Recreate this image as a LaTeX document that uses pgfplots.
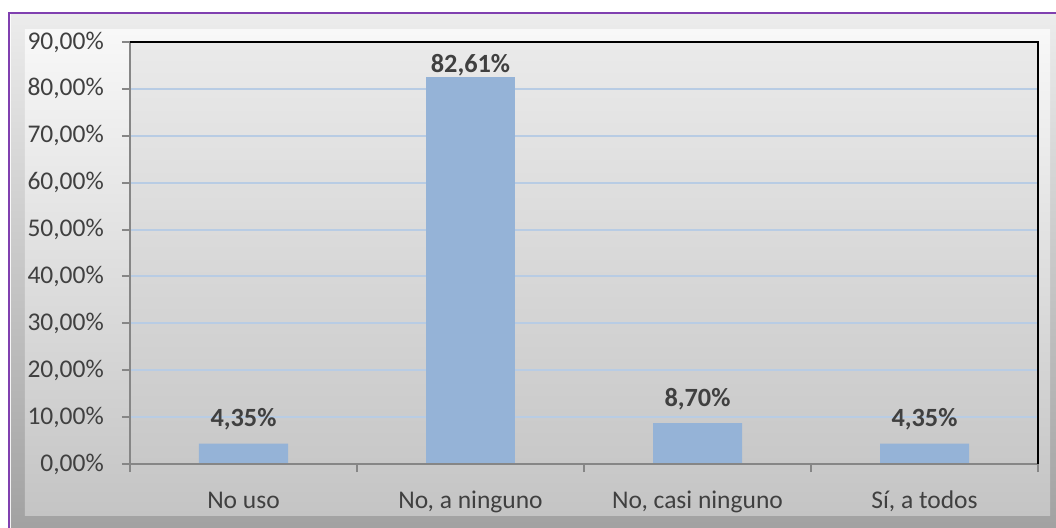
\documentclass[border=0pt]{standalone}
\usepackage{fontspec}
\setmainfont{Carlito}
\usepackage{pgfplots}
\pgfplotsset{compat=1.18}
\definecolor{barblue}{RGB}{149,179,215}
\definecolor{gridblue}{RGB}{184,204,228}
\definecolor{framepurple}{RGB}{128,64,176}
\definecolor{axisgray}{RGB}{134,134,134}
\definecolor{txt}{RGB}{64,64,64}
\definecolor{paneltop}{RGB}{248,248,248}
\definecolor{panelbot}{RGB}{196,196,196}
\definecolor{beveltop}{RGB}{236,236,236}
\definecolor{bevelbot}{RGB}{160,160,160}
\definecolor{plottop}{RGB}{234,234,234}
\definecolor{plotbot}{RGB}{200,200,200}
\begin{document}
\begin{tikzpicture}[x=1pt,y=1pt]
% pixel (px,py) -> (px-130, 464-py)
\useasboundingbox (-130,-63) rectangle (926,464);
\fill[white] (-130,-63) rectangle (926,464);
\begin{scope}
\clip (-130,-63) rectangle (926,464);
\shade[top color=beveltop, bottom color=bevelbot] (-119,450) rectangle (935,-75);
\shade[top color=paneltop, bottom color=panelbot] (-105,434) rectangle (920,-51);
\draw[framepurple, line width=2pt] (-121,-90) -- (-121,451) -- (950,451);
\end{scope}
\begin{axis}[
  at={(0,0)}, anchor=south west,
  scale only axis, width=908pt, height=422pt,
  xmin=-0.5, xmax=3.5, ymin=0, ymax=90,
  ybar, bar width=89pt, bar shift=0pt,
  axis background/.style={shade, top color=plottop, bottom color=plotbot},
  axis line style={draw=none},
  /pgf/number format/assume math mode=true,
  ytick={0,10,...,90},
  xtick={0,1,2,3},
  xticklabels={No uso, {No, a ninguno}, {No, casi ninguno}, {Sí, a todos}},
  minor xtick={-0.5,0.5,1.5,2.5,3.5},
  major x tick style={draw=none},
  xtick pos=bottom, ytick pos=left,
  tick align=outside,
  major tick length=8pt, minor tick length=8pt,
  tick style={axisgray, line width=2pt},
  ymajorgrids, grid style={gridblue, line width=2pt},
  yticklabel={\pgfmathprintnumber[fixed,fixed zerofill,precision=2,use comma]{\tick}\%},
  every tick label/.append style={font=\fontsize{25.5}{30}\selectfont, text=txt, inner sep=0pt},
  yticklabel style={anchor=east, xshift=-18pt},
  xticklabel style={anchor=base, yshift=-36pt},
  nodes near coords={\pgfmathprintnumber[fixed,fixed zerofill,precision=2,use comma]{\pgfplotspointmeta}\%},
  nodes near coords style={font=\bfseries\fontsize{26.3}{30}\selectfont, text=txt, anchor=base, inner sep=0pt},
  clip=false,
]
\addplot[fill=barblue, draw=none, nodes near coords style={yshift=17pt}] coordinates {(0,4.35) (2,8.70) (3,4.35)};
\addplot[fill=barblue, draw=none, nodes near coords style={yshift=4pt}] coordinates {(1,82.61)};
\draw[axisgray, line width=2pt] (rel axis cs:0,1) -- (rel axis cs:0,0) -- (rel axis cs:1,0);
\draw[black, line width=2pt] (rel axis cs:0,1) -- (rel axis cs:1,1) -- (rel axis cs:1,0);
\end{axis}
\end{tikzpicture}
\end{document}
